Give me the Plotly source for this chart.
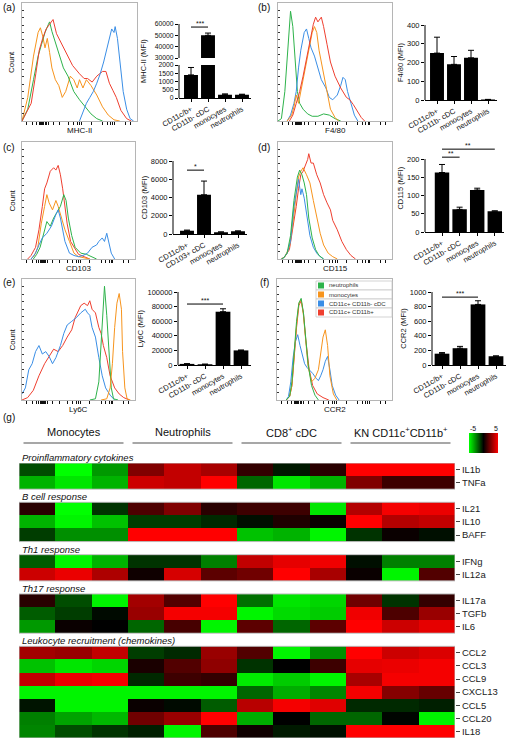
import plotly.graph_objects as go

W, H = 509, 739
def X(px): return px / W
def Y(py): return 1 - py / H

FONT = "Liberation Sans, Arial, sans-serif"
RED, ORANGE, GREEN, BLUE = "#ef3f2f", "#f7941d", "#2eb34b", "#3a8ee6"

# ---------------- histogram data (x: % of axis, y: % of max count) ----------------
a_green_x = [0,5,10,14,17,20,23,24,26,28,30,33,36,40,45,50,55,60,65,70]
a_green_y = [0,10,35,55,65,75,82,84,76,70,62,55,45,38,25,18,12,6,2,0]
a_orange_x = [0,5,10,14,16,18,20,22,24,26,29,32,35,38,42,45,48,50,53,56,60,65,70,75,80,85]
a_orange_y = [0,20,55,75,79,72,62,70,58,45,35,30,20,25,38,35,28,35,28,35,30,22,12,5,1,0]
a_red_x = [0,8,12,15,18,21,24,27,30,33,36,39,44,50,54,57,61,65,70,73,76,79,82,86,91,95]
a_red_y = [0,15,40,60,70,78,82,86,74,68,62,57,47,40,36,36,33,38,42,42,32,26,20,9,2,0]
a_blue_x = [50,53,56,59,62,65,68,71,73,75,77,78,80,81,83,85,88,91,94,97]
a_blue_y = [0,8,15,20,25,32,40,50,58,66,74,78,75,80,70,50,25,10,2,0]

b_green_x = [0,3,6,9,11,13,15,17,19,22,26,30,35,40,45,50,55]
b_green_y = [0,2,25,70,93,80,50,25,15,10,6,4,4,6,5,2,0]
b_orange_x = [8,12,14,16,18,20,24,27,30,32,34,36,40,43,46,50,53]
b_orange_y = [0,5,12,22,15,25,45,60,75,80,75,60,40,25,10,3,0]
b_red_x = [10,13,16,19,22,25,28,31,33,35,38,40,43,46,50,55,60,63,66,70,73,76]
b_red_y = [0,5,15,25,38,52,68,82,88,84,88,80,65,50,38,28,20,18,14,8,3,0]
b_blue_x = [8,11,14,16,18,20,23,25,27,29,32,35,38,42,45,48,52,55,57,59,61,64,67,70]
b_blue_y = [0,5,15,25,45,60,75,78,70,62,55,45,35,28,20,18,22,30,37,35,25,15,5,0]

c_red_x = [5,8,12,15,18,20,22,25,28,30,32,34,36,38,40,43,47,50,55,60]
c_red_y = [0,3,10,25,45,60,65,75,78,76,80,72,60,45,30,15,8,4,2,0]
c_orange_x = [8,11,14,17,20,22,24,27,30,32,35,38,42,46,50,55,60]
c_orange_y = [0,3,10,30,45,55,48,42,50,45,35,25,15,5,2,1,0]
c_green_x = [10,13,16,20,22,25,28,31,34,37,39,41,44,47,52,57,62,66]
c_green_y = [0,4,10,25,32,28,35,40,45,55,50,35,20,10,5,4,2,0]
c_blue_x = [8,12,15,18,22,26,30,32,34,36,38,42,46,50,54,58,62,66,68,71,73,75,77,79,82]
c_blue_y = [0,5,12,18,22,28,38,42,35,25,15,5,3,2,3,5,10,12,15,18,15,22,12,5,0]

d_red_x = [3,6,10,13,16,18,20,22,24,26,27,29,31,34,37,40,43,46,48,52,56,60,64,68]
d_red_y = [0,2,8,25,45,60,72,75,80,85,90,82,82,72,65,55,48,42,33,25,15,8,3,0]
d_orange_x = [3,6,10,13,16,18,20,22,25,28,31,34,37,40,44,48,52]
d_orange_y = [0,2,10,30,55,70,75,78,72,65,50,35,22,12,5,2,0]
d_green_x = [3,5,8,11,14,17,19,21,23,25,27,30,33,36,40]
d_green_y = [0,1,5,20,50,70,76,72,65,55,35,18,8,3,0]
d_blue_x = [3,5,8,11,14,17,18,20,21,23,25,28,31,34,37,40]
d_blue_y = [0,1,5,15,45,65,68,55,60,52,40,20,10,5,2,0]

e_green_x = [60,65,68,70,72,73,75,77,79,81,85]
e_green_y = [0,1,15,45,80,94,70,35,10,1,0]
e_orange_x = [70,75,78,80,82,84,86,88,89,91,93,96]
e_orange_y = [0,1,10,30,60,80,88,75,40,10,1,0]
e_red_x = [0,5,10,15,20,25,28,32,36,40,44,47,50,52,55,58,60,62,65,68,70,72,75,78,82,86,90,95]
e_red_y = [0,2,8,20,30,38,42,40,45,52,58,68,75,78,80,78,82,75,72,60,55,45,35,20,10,5,2,0]
e_blue_x = [0,3,6,9,12,15,18,21,24,27,30,34,37,40,44,48,52,56,58,60,62,65,68,71,74,78,82]
e_blue_y = [5,10,25,30,40,45,38,40,36,30,35,45,55,62,65,68,72,75,72,70,60,52,35,20,10,4,0]

f_green_x = [8,11,13,15,17,19,21,23,25,27,30,33,36]
f_green_y = [0,3,15,40,65,80,84,72,50,30,12,4,0]
f_orange_x = [8,11,13,15,17,19,21,23,25,27,30,33,36,38,40,42,44,46,49,52]
f_orange_y = [0,3,12,38,62,80,83,70,48,28,15,18,25,40,52,58,45,20,5,0]
f_blue_x = [8,10,12,14,16,18,20,22,24,26,28,31,34,36,38,40,42,44,46,48,51,54]
f_blue_y = [0,3,15,35,48,54,45,38,30,27,25,22,18,16,20,25,32,36,25,12,4,0]
f_red_x = [8,11,13,15,17,19,21,23,25,28,31,35,40,45]
f_red_y = [0,3,12,38,60,78,82,72,50,25,12,5,2,0]

hist_xticks = [4, 9, 13, 15, 16, 17, 18, 19, 20, 21, 23, 27, 33, 40, 45, 48, 50, 52, 60, 70, 74, 77, 79, 80, 90, 94]

# ---------------- bar data ----------------
cats_std = ["CD11c/b+", "CD11b- cDC", "monocytes", "neutrophils"]
cats_cd103 = ["CD11c/b+", "CD103+ cDC", "monocytes", "neutrophils"]
mhc_mfi = [1400, 50000, 200, 200]; mhc_err = [450, 2000, 50, 30]
f480_mfi = [250, 190, 225, 3]; f480_err = [85, 42, 40, 0]
cd103_mfi = [350, 4300, 200, 300]; cd103_err = [80, 1500, 30, 40]
cd115_mfi = [163, 62, 115, 57]; cd115_err = [22, 6, 5, 1]
ly6c_mfi = [1500, 1000, 73000, 20000]; ly6c_err = [300, 100, 4000, 500]
ccr2_mfi = [155, 230, 830, 120]; ccr2_err = [15, 25, 50, 5]

mhc_sig = [(0, 1, 57300, "***")]
cd103_sig = [(0, 1, 7000, "*")]
cd115_sig = [(0, 1, 205, "**"), (0, 3, 227, "**")]
ly6c_sig = [(0, 2, 83500, "***")]
ccr2_sig = [(0, 2, 930, "***")]

# ---------------- heatmap data ----------------
col_groups = ["Monocytes", "Neutrophils", "CD8<sup>+</sup> cDC", "KN CD11c<sup>+</sup>CD11b<sup>+</sup>"]
sections = ["Proinflammatory cytokines", "B cell response", "Th1 response",
            "Th17 response", "Leukocyte recruitment (chemokines)"]
section_genes = [["IL1b", "TNFa"], ["IL21", "IL10", "BAFF"], ["IFNg", "IL12a"],
                 ["IL17a", "TGFb", "IL6"],
                 ["CCL2", "CCL3", "CCL9", "CXCL13", "CCL5", "CCL20", "IL18"]]
IL1b   = [-1.5, -5, -3, 2.5, 3.8, 3.3, 1, -0.5, 0.8, 5, 5, 5]
TNFa   = [-3.5, -4.5, -3.5, 4, 3.8, 5, -2, -4.5, -3.5, 2.5, 1.2, 1.2]
IL21   = [0.8, -5, -1, 1.5, 2.5, 0.8, 1.2, 1.2, -4.5, 3.5, 4.8, 4.6]
IL10   = [-3.5, -4.8, -3.8, -1.2, -1.2, -0.8, -0.3, 0.6, 0.2, 5, 3.5, 3.8]
BAFF   = [-1.2, -2.8, -2.8, 5, 5, 5, -3.8, -3.5, -4.8, -1, 0.2, -0.3]
IFNg   = [-1.8, -4.8, -3.5, -1, -1, -2.5, 3.8, 4.5, 4.7, -0.3, -2.5, -2.5]
IL12a  = [4, 4.6, 3.4, 0.3, 4.2, 1.8, 2.2, 5, 3.3, 0.2, -4.8, 1.6]
IL17a  = [0.8, -1.5, -4.8, 3.2, 1.6, 5, -2.2, -4.5, -4.2, 2.2, -1, 1.0]
TGFb   = [-1.8, -1.2, -0.2, 3, 4.8, 4.8, -4.8, -4.3, -4, 4.7, 1.5, 3]
IL6    = [-3, 0.2, 0, -2, 1.4, -4.8, 1.8, -2, 1.8, 5, 4, 4.5]
CCL2   = [3.2, 3, 3.8, -1.2, -0.8, 3, 1.6, -4.8, -2.8, 5, 4, 4.3]
CCL3   = [-3.8, -4.5, -4.2, 0.5, 1.6, 2.8, -1, 0, 1.2, 4.5, 4.6, 4.8]
CCL9   = [3.8, 4.6, 4.8, -0.8, 1.2, 1, -4.6, -4, -4.8, 3.3, 4.8, 4.8]
CXCL13 = [-4.8, -4.8, -4.8, -4.8, -4.8, -4.8, -2, -3.4, -2.6, 4.8, 2.6, 2]
CCL5   = [-0.4, -4.8, -4.8, 0.2, -0.2, -1.8, 3.6, 4.8, 4.4, -0.8, -0.8, -0.6]
CCL20  = [-2.5, -3.2, -3.6, 2.2, 3, 5, -3.4, 0, -2, -2, -0.1, -4.8]
IL18   = [-2.6, -1.5, -1, -0.6, -4.8, 1.5, 0.3, -0.5, -0.3, 5, 5, 5]
gene_values = dict(IL1b=IL1b, TNFa=TNFa, IL21=IL21, IL10=IL10, BAFF=BAFF, IFNg=IFNg,
                   IL12a=IL12a, IL17a=IL17a, TGFb=TGFb, IL6=IL6, CCL2=CCL2, CCL3=CCL3,
                   CCL9=CCL9, CXCL13=CXCL13, CCL5=CCL5, CCL20=CCL20, IL18=IL18)

fig = go.Figure()
layout = dict(template="none", width=W, height=H, margin=dict(l=0, r=0, t=0, b=0, pad=0), autosize=False,
              paper_bgcolor="white", plot_bgcolor="white", showlegend=False,
              font=dict(family=FONT, color="#111", size=8))
shapes, annotations = [], []

def ann(x, y, text, size=8, **kw):
    d = dict(x=X(x), y=Y(y), xref="paper", yref="paper", text=text, showarrow=False,
             xanchor="center", yanchor="middle",
             font=dict(family=FONT, size=size, color=kw.pop("color", "#111")))
    d.update(kw)
    annotations.append(d)

# ---------------- histograms ----------------
hist_panels = [
    (1, 22, 137, 3, 121, "MHC-II", True,
     [(a_orange_x, a_orange_y, ORANGE), (a_green_x, a_green_y, GREEN), (a_red_x, a_red_y, RED), (a_blue_x, a_blue_y, BLUE)]),
    (2, 278, 392, 3, 121, "F4/80", False,
     [(b_green_x, b_green_y, GREEN), (b_blue_x, b_blue_y, BLUE), (b_orange_x, b_orange_y, ORANGE), (b_red_x, b_red_y, RED)]),
    (3, 22, 135, 142, 259, "CD103", True,
     [(c_red_x, c_red_y, RED), (c_orange_x, c_orange_y, ORANGE), (c_green_x, c_green_y, GREEN), (c_blue_x, c_blue_y, BLUE)]),
    (4, 278, 392, 142, 259, "CD115", False,
     [(d_red_x, d_red_y, RED), (d_orange_x, d_orange_y, ORANGE), (d_blue_x, d_blue_y, BLUE), (d_green_x, d_green_y, GREEN)]),
    (5, 22, 135, 279, 400, "Ly6C", True,
     [(e_red_x, e_red_y, RED), (e_blue_x, e_blue_y, BLUE), (e_green_x, e_green_y, GREEN), (e_orange_x, e_orange_y, ORANGE)]),
    (6, 277, 392, 279, 400, "CCR2", False,
     [(f_red_x, f_red_y, RED), (f_blue_x, f_blue_y, BLUE), (f_orange_x, f_orange_y, ORANGE), (f_green_x, f_green_y, GREEN)]),
]
for n, x0, x1, y0, y1, title, count, curves in hist_panels:
    for xs, ys, col in curves:
        fig.add_trace(go.Scatter(x=xs, y=ys, mode="lines", line=dict(color=col, width=1),
                                 xaxis=f"x{n}", yaxis=f"y{n}", hoverinfo="skip"))
    layout[f"xaxis{n}"] = dict(domain=[X(x0), X(x1)], range=[0, 100], anchor=f"y{n}", automargin=False,
                               showline=True, mirror=True, linecolor="#b5b5b5", linewidth=1,
                               ticks="outside", tickvals=hist_xticks, ticklen=3, tickcolor="#111",
                               showticklabels=False, showgrid=False, zeroline=False)
    layout[f"yaxis{n}"] = dict(domain=[Y(y1), Y(y0)], range=[0, 100], anchor=f"x{n}", automargin=False,
                               showline=True, mirror=True, linecolor="#b5b5b5", linewidth=1,
                               ticks="inside", dtick=6.25, tick0=0, ticklen=2, tickcolor="#333",
                               showticklabels=False, showgrid=False, zeroline=False)
    ann((x0 + x1) / 2, y1 + 9, title, size=8)
    if count:
        ann(12, (y0 + y1) / 2, "Count", size=8, textangle=-90)

for lbl, x, y in [("(a)", 9, 8), ("(b)", 264, 8), ("(c)", 9, 147), ("(d)", 264, 147),
                  ("(e)", 9, 283), ("(f)", 264, 283), ("(g)", 9, 418)]:
    ann(x, y, lbl, size=10)

# legend in (f)
leg_items = [("neutrophils", GREEN), ("monocytes", ORANGE), ("CD11c+ CD11b- cDC", BLUE), ("CD11c+ CD11b+", RED)]
for i, (txt, col) in enumerate(leg_items):
    ty = 281 + 9 * i
    shapes.append(dict(type="rect", xref="paper", yref="paper", x0=X(316), x1=X(392), y0=Y(ty + 9), y1=Y(ty),
                       line=dict(color="#c8c8c8", width=0.8), fillcolor="white", layer="above"))
    shapes.append(dict(type="rect", xref="paper", yref="paper", x0=X(318), x1=X(324), y0=Y(ty + 7.5), y1=Y(ty + 1.5),
                       line=dict(width=0), fillcolor=col, layer="above"))
    ann(327, ty + 4.5, txt, size=6, xanchor="left", color="#333")

# ---------------- bar charts ----------------
def bar_panel(n, cats, vals, errs, axis_px, c0_px, sp, y0_px, ytop_px, ymin, ymax, dtick,
              title, sig, range_top=None, xaxis_n=None, show_x=True, ytick_size=7.5):
    xn = xaxis_n or n
    rtop = range_top if range_top is not None else ymax
    top_px = y0_px - (y0_px - ytop_px) * (rtop - ymin) / (ymax - ymin)
    fig.add_trace(go.Bar(x=list(range(len(cats))), y=vals, marker=dict(color="black", line=dict(width=0)),
                         width=0.82, xaxis=f"x{xn}", yaxis=f"y{n}", hoverinfo="skip",
                         error_y=dict(type="data", array=errs, arrayminus=[0] * len(errs), symmetric=False,
                                      color="black", thickness=1, width=3)))
    if show_x:
        r0 = -(c0_px - axis_px) / sp
        right = axis_px + (3.55 - r0) * sp
        layout[f"xaxis{xn}"] = dict(domain=[X(axis_px), X(right)], range=[r0, 3.55], anchor=f"y{n}",
                                    automargin=False,
                                    tickvals=list(range(len(cats))), ticktext=cats, tickangle=-30,
                                    ticks="outside", ticklen=3, tickcolor="black",
                                    tickfont=dict(family=FONT, size=7.5, color="#111"),
                                    showline=True, linecolor="black", linewidth=1,
                                    showgrid=False, zeroline=False)
    tv = list(range(int(ymin), int(ymax) + 1, int(dtick)))
    yd = dict(domain=[Y(y0_px), Y(top_px)], range=[ymin, rtop], anchor=f"x{xn}", automargin=False,
              tickvals=tv, tickformat="d", ticks="outside", ticklen=3, tickcolor="black",
              tickfont=dict(family=FONT, size=ytick_size, color="#111"),
              showline=False, showgrid=False, zeroline=False)
    if title:
        yd["title"] = dict(text=title, font=dict(family=FONT, size=7.5, color="#111"), standoff=2)
    layout[f"yaxis{n}"] = yd
    shapes.append(dict(type="line", xref=f"x{xn} domain", yref=f"y{n}", x0=0, x1=0, y0=ymin, y1=ymax,
                       line=dict(color="black", width=1)))
    for i, j, lev, star in sig:
        shapes.append(dict(type="line", xref=f"x{xn}", yref=f"y{n}", x0=i, x1=j, y0=lev, y1=lev,
                           line=dict(color="black", width=1)))
        annotations.append(dict(x=(i + j) / 2, y=lev, xref=f"x{xn}", yref=f"y{n}", text=star,
                                showarrow=False, xanchor="center", yanchor="bottom", yshift=-2,
                                font=dict(family=FONT, size=7, color="#111")))

# (a) broken axis: bottom 0-2000, top 30000-60000
bar_panel(7, cats_std, mhc_mfi, mhc_err, 179, 191, 17, 98, 65, 0, 2000, 500, "", [], ytick_size=6.8)
bar_panel(8, cats_std, mhc_mfi, mhc_err, 179, 191, 17, 58, 24, 30000, 60000, 10000, "",
          mhc_sig, range_top=63000, xaxis_n=7, show_x=False, ytick_size=6.8)
ann(144, 61, "MHC-II (MFI)", size=7.5, textangle=-90)
bar_panel(9, cats_std, f480_mfi, f480_err, 425, 437, 17, 100, 25, 0, 400, 100, "F4/80 (MFI)", [])
bar_panel(10, cats_cd103, cd103_mfi, cd103_err, 173, 187, 17, 234, 161, 0, 8000, 2000, "CD103 (MFI)", cd103_sig)
bar_panel(11, cats_std, cd115_mfi, cd115_err, 425, 442, 17.6, 232, 159, 0, 200, 50, "CD115 (MFI)",
          cd115_sig, range_top=240)
bar_panel(12, cats_std, ly6c_mfi, ly6c_err, 178, 187, 18, 365, 292, 0, 100000, 20000, "Ly6C (MFI)", ly6c_sig)
bar_panel(13, cats_std, ccr2_mfi, ccr2_err, 432, 442, 18, 365, 292, 0, 1000, 200, "CCR2 (MFI)", ccr2_sig)

# ---------------- heatmap ----------------
z, row_names, tick_rows, gap_rows = [], [], [], []
for si, genes in enumerate(section_genes):
    if si > 0:
        gap_rows.append(len(z))
        z.append([None] * 12)
        row_names.append("")
    for g in genes:
        tick_rows.append(len(z))
        z.append(gene_values[g])
        row_names.append(g)
nrows = len(z)
hm_top, hm_bot, hm_left, hm_right = 463, 738, 19, 455
fig.add_trace(go.Heatmap(z=z, x=list(range(12)), y=list(range(nrows)), zmin=-5, zmax=5,
                         colorscale=[[0, "#00ff00"], [0.5, "#000000"], [1, "#ff0000"]],
                         hoverongaps=False, xaxis="x14", yaxis="y14", xgap=0, ygap=0,
                         colorbar=dict(orientation="h", x=X(469), xanchor="left", y=Y(433), yanchor="top",
                                       len=29, lenmode="pixels", thickness=20, thicknessmode="pixels",
                                       showticklabels=False, ticks="", outlinewidth=0, xpad=0, ypad=0)))
layout["xaxis14"] = dict(domain=[X(hm_left), X(hm_right)], range=[-0.5, 11.5], anchor="y14",
                         visible=False, automargin=False)
layout["yaxis14"] = dict(domain=[Y(hm_bot), Y(hm_top)], range=[nrows - 0.5, -0.5], anchor="x14",
                         side="right", tickvals=tick_rows, ticktext=[row_names[r] for r in tick_rows],
                         ticks="outside", ticklen=4, tickcolor="#444", automargin=False,
                         tickfont=dict(family=FONT, size=9.5, color="#222"),
                         showline=False, showgrid=False, zeroline=False)
rowh = (hm_bot - hm_top) / nrows
label_rows = [-1] + gap_rows
for r, sec in zip(label_rows, sections):
    ann(20, hm_top + (r + 0.5) * rowh + 1, f"<i>{sec}</i>", size=9.5, xanchor="left")
# block frames
starts = [0] + [g + 1 for g in gap_rows]
ends = gap_rows + [nrows]
for s, e in zip(starts, ends):
    shapes.append(dict(type="rect", xref="x14", yref="y14", x0=-0.5, x1=11.5, y0=s - 0.5, y1=e - 0.5,
                       line=dict(color="#bdbdbd", width=1)))

colw = (hm_right - hm_left) / 12
for gi, gname in enumerate(col_groups):
    cx = hm_left + (gi * 3 + 1.5) * colw
    ann(cx, 432, gname, size=11)
    shapes.append(dict(type="line", xref="paper", yref="paper", x0=X(cx - 50), x1=X(cx + 50),
                       y0=Y(443), y1=Y(443), line=dict(color="#8a8a8a", width=1.5)))
ann(473, 428, "-5", size=7)
ann(496, 428, "5", size=7)

layout["shapes"] = shapes
layout["annotations"] = annotations
fig.update_layout(**layout)
fig.write_html("out.html", config={"displayModeBar": False, "staticPlot": True},
               post_script="document.body.style.margin='0';document.body.style.overflow='hidden';")
